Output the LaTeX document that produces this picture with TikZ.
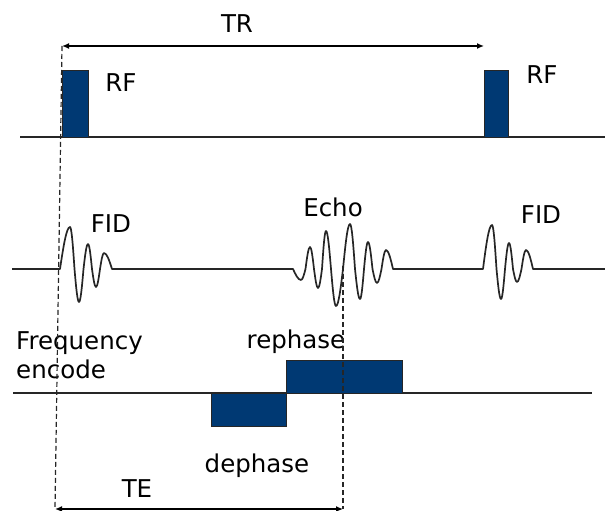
\documentclass[tikz,border=0pt]{standalone}
\usepackage{fontspec}
\setmainfont{DejaVu Sans}
\usetikzlibrary{arrows.meta}
\definecolor{azulpulso}{RGB}{0,57,115}

\begin{document}
\begin{tikzpicture}[
        x=1pt, y=-1pt,
        rotulo/.style={inner sep=0pt, font=\fontsize{24.5}{29}\selectfont},
        eje/.style={draw=black!85, line width=1.4pt},
        pulso/.style={draw=black!85, line width=1pt, fill=azulpulso},
        senal/.style={draw=black!85, line width=1.7pt, line join=round},
        guia/.style={draw=black!85, line width=1.2pt, dash pattern=on 5pt off 3pt},
        cota/.style={{Latex[length=7pt,width=6pt]}-{Latex[length=7pt,width=6pt]}, line width=1.3pt}
    ]
        \useasboundingbox (0,0) rectangle (605,511);

        % puntos de las cotas
        \coordinate (trA) at (62,46);
        \coordinate (trB) at (484,46);
        \coordinate (teA) at (55,509);
        \coordinate (teB) at (343,509);
        \coordinate (eco) at (343,266);

        % fila RF
        \draw[eje] (20,137) -- (605,137);
        \path[pulso] (62,137) rectangle (88,71);
        \path[pulso] (484,137) rectangle (508,71);
        \node[rotulo, anchor=base] (rf1) at (121,92) {RF};
        \node[rotulo, anchor=base] (rf2) at (542,84) {RF};

        % fila de la senal
        \draw[senal] (12,269) -- (60,269)
            sin (70,227) cos (74.5,269) sin (79,302) cos (83.5,269)
            sin (88,244) cos (92,269) sin (96,287) cos (100,269)
            sin (104,253) cos (112,269)
            -- (293,269)
            sin (301,280) cos (305.5,269) sin (310,247) cos (314,269)
            sin (318,288) cos (322,269) sin (326,231) cos (331,269)
            sin (336,306) cos (343,269) sin (350,224) cos (355,269)
            sin (360,299) cos (364,269) sin (368,242) cos (372.5,269)
            sin (377,283) cos (381.5,269) sin (386,250) cos (393,269)
            -- (483,269)
            sin (492,225) cos (496.5,269) sin (501,299) cos (505,269)
            sin (509,243) cos (513,269) sin (517,282) cos (521.5,269)
            sin (526,250) cos (533,269)
            -- (605,269);
        \node[rotulo, anchor=base] (fid1) at (111,232) {FID};
        \node[rotulo, anchor=base] (echo) at (333,216) {Echo};
        \node[rotulo, anchor=base] (fid2) at (541,223) {FID};

        % fila de codificacion
        \draw[eje] (13,393) -- (592,393);
        \path[pulso] (211,393) rectangle (286,426);
        \path[pulso] (286,393) rectangle (402,360);
        \node[rotulo, anchor=north west, align=left] (freq) at (16,331) {Frequency\\encode};
        \node[rotulo, anchor=base] (reph) at (296,348) {rephase};
        \node[rotulo, anchor=base] (deph) at (257,472) {dephase};

        % lineas guia y cotas
        \draw[guia] (trA) -- (teA);
        \draw[guia] (eco) -- (teB);
        \draw[cota] (trA) -- (trB);
        \draw[cota] (teA) -- (teB);
        \node[rotulo, anchor=base] (tr) at (237,33) {TR};
        \node[rotulo, anchor=base] (te) at (137,497) {TE};
    \end{tikzpicture}
\end{document}
